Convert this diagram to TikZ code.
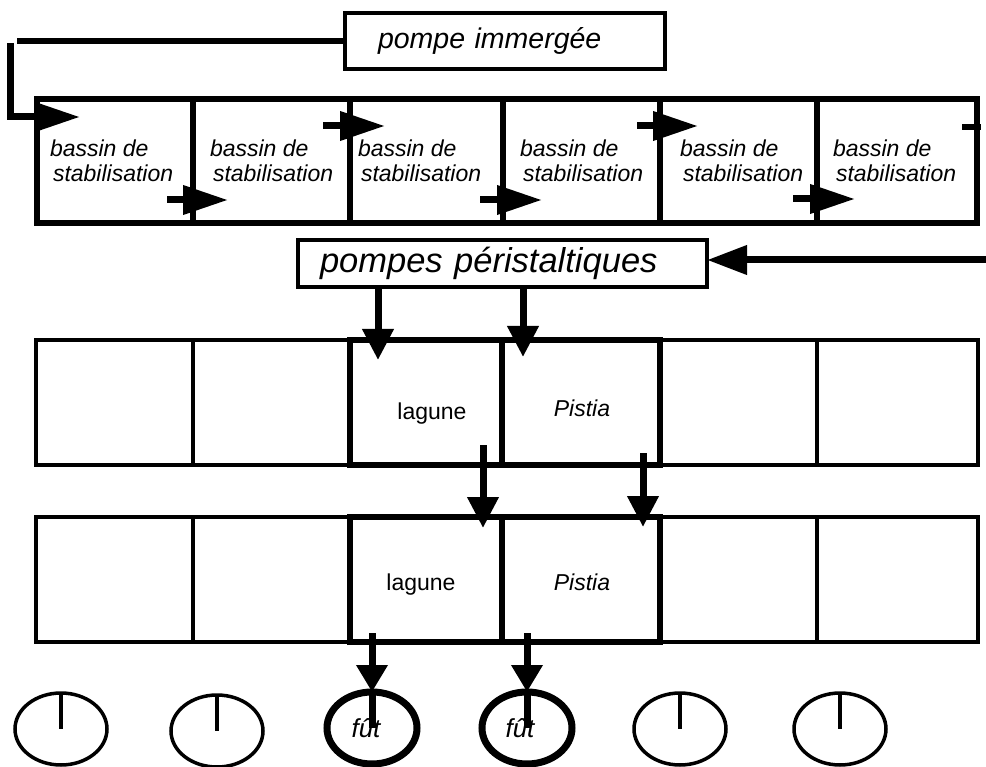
\documentclass[tikz,border=0pt]{standalone}
\usepackage{fontspec}
\setmainfont{Liberation Sans}
\usetikzlibrary{arrows.meta,shapes.geometric}
\begin{document}
\begin{tikzpicture}[x=1pt,y=-1pt,
  every node/.style={inner sep=0pt,outer sep=0pt},
  topbox/.style={draw,line width=6.5pt,minimum height=124pt},
  thinbox/.style={draw,line width=3.2pt,minimum height=125pt},
  hibox/.style={draw,line width=6.5pt,minimum height=125pt},
  labelbox/.style={draw,line width=3.5pt,align=left,font=\itshape},
  btext/.style={font=\fontsize{23}{25}\selectfont\itshape,align=left,anchor=base west},
  ltext/.style={font=\fontsize{23}{25}\selectfont,anchor=base},
  futtext/.style={font=\fontsize{26}{28}\selectfont\itshape,anchor=base},
  thinbarrel/.style={draw,ellipse,line width=3.5pt,minimum width=92pt,minimum height=72pt},
  thickbarrel/.style={draw,ellipse,line width=7pt,minimum width=90pt,minimum height=72pt},
  thinstem/.style={line width=4pt},
  thickstem/.style={line width=7pt},
  pipe/.style={line width=6.5pt},
  bigarrow/.style={line width=7pt,-{Triangle[length=45pt,width=28pt]}},
  smallarrow/.style={line width=7pt,-{Triangle[length=31pt,width=30pt]}},
  futarrow/.style={line width=7pt,-{Triangle[length=27pt,width=30pt]}},
  backarrow/.style={line width=7pt,-{Triangle[length=40pt,width=28pt]}}
]
\useasboundingbox (0,0) rectangle (986,767);

% pompe immergee
\node[labelbox,minimum width=320pt,minimum height=56pt,text width=254pt,inner xsep=33pt,
  font=\fontsize{28.5}{30}\selectfont\itshape] (pi) at (505,41) {pompe immergée};

% top row: bassins de stabilisation
\node[topbox,minimum width=156pt] (b1) at (115,161) {};
\node[topbox,minimum width=157pt] (b2) at (271.5,161) {};
\node[topbox,minimum width=153pt] (b3) at (426.5,161) {};
\node[topbox,minimum width=157pt] (b4) at (581.5,161) {};
\node[topbox,minimum width=157pt] (b5) at (738.5,161) {};
\node[topbox,minimum width=160pt] (b6) at (897,161) {};
\node[btext] (t1) at (50,182) {bassin de\\\hspace*{3pt}stabilisation};
\node[btext] (t2) at (210,182) {bassin de\\\hspace*{3pt}stabilisation};
\node[btext] (t3) at (358,182) {bassin de\\\hspace*{3pt}stabilisation};
\node[btext] (t4) at (520,182) {bassin de\\\hspace*{3pt}stabilisation};
\node[btext] (t5) at (680,182) {bassin de\\\hspace*{3pt}stabilisation};
\node[btext] (t6) at (833,182) {bassin de\\\hspace*{3pt}stabilisation};

% feed from the immersed pump
\coordinate (f0) at (17,41);
\coordinate (f1) at (10,43);
\coordinate (f2) at (10,117);
\coordinate (f3) at (80,117);
\draw[pipe] (pi.west) -- (f0);
\draw[bigarrow] (f1) -- (f2) -- (f3);

% flow between the bassins
\coordinate (a2s) at (167,200); \coordinate (a2e) at (228,200);
\coordinate (a3s) at (323,126); \coordinate (a3e) at (385,126);
\coordinate (a4s) at (480,200); \coordinate (a4e) at (542,200);
\coordinate (a5s) at (637,126); \coordinate (a5e) at (698,126);
\coordinate (a6s) at (793,199); \coordinate (a6e) at (855,199);
\coordinate (a7s) at (962,127); \coordinate (a7e) at (981,127);
\draw[bigarrow] (a2s) -- (a2e);
\draw[bigarrow] (a3s) -- (a3e);
\draw[bigarrow] (a4s) -- (a4e);
\draw[bigarrow] (a5s) -- (a5e);
\draw[bigarrow] (a6s) -- (a6e);
\draw[line width=6pt] (a7s) -- (a7e);

% pompes peristaltiques
\node[labelbox,minimum width=409pt,minimum height=47pt,text width=365pt,inner xsep=22pt,
  font=\fontsize{34.5}{36}\selectfont\itshape] (pp) at (502.5,263.5) {pompes péristaltiques};
\coordinate (rin) at (986,260);
\draw[backarrow] (rin) -- (rin -| pp.east);

% first row of lagunes
\node[thinbox,minimum width=157pt] (m1) at (114.5,402.5) {};
\node[thinbox,minimum width=157pt] (m2) at (271.5,402.5) {};
\node[thinbox,minimum width=157pt] (m5) at (738.5,402.5) {};
\node[thinbox,minimum width=161pt] (m6) at (897.5,402.5) {};
\node[hibox,minimum width=152pt] (m3) at (426,402.5) {};
\node[hibox,minimum width=158pt] (m4) at (581,402.5) {};
\node[ltext] (l1) at (432,420) {lagune};
\node[ltext,font=\fontsize{23}{25}\selectfont\itshape] (p1) at (582,417) {Pistia};

% second row
\node[thinbox,minimum width=157pt] (n1) at (114.5,579.5) {};
\node[thinbox,minimum width=157pt] (n2) at (271.5,579.5) {};
\node[thinbox,minimum width=157pt] (n5) at (738.5,579.5) {};
\node[thinbox,minimum width=161pt] (n6) at (897.5,579.5) {};
\node[hibox,minimum width=152pt] (n3) at (426,579.5) {};
\node[hibox,minimum width=158pt] (n4) at (581,579.5) {};
\node[ltext] (l2) at (421,590) {lagune};
\node[ltext,font=\fontsize{23}{25}\selectfont\itshape] (p2) at (582,590) {Pistia};

% pump outlets into the first row
\coordinate (q1s) at (378,287); \coordinate (q1e) at (378,360);
\coordinate (q2s) at (523,287); \coordinate (q2e) at (523,357);
\draw[smallarrow] (q1s) -- (q1e);
\draw[smallarrow] (q2s) -- (q2e);

% first row to second row
\coordinate (r1s) at (483,445); \coordinate (r1e) at (483,528);
\coordinate (r2s) at (643,453); \coordinate (r2e) at (643,527);
\draw[smallarrow] (r1s) -- (r1e);
\draw[smallarrow] (r2s) -- (r2e);

% barrels
\node[thinbarrel] (c1) at (61,729) {};
\node[thinbarrel] (c2) at (217,731) {};
\node[thickbarrel] (c3) at (372,728) {};
\node[thickbarrel] (c4) at (527,728) {};
\node[thinbarrel] (c5) at (680,729) {};
\node[thinbarrel] (c6) at (840,729) {};
\node[futtext] (u1) at (366,737) {fût};
\node[futtext] (u2) at (520,737) {fût};
\draw[thinstem] (c1.north) -- (c1.center);
\draw[thinstem] (c2.north) -- (c2.center);
\draw[thinstem] (c5.north) -- (c5.center);
\draw[thinstem] (c6.north) -- (c6.center);
\coordinate (s1) at (372,633);
\coordinate (s2) at (527,633);
\draw[futarrow] (s1) -- (c3.north);
\draw[futarrow] (s2) -- (c4.north);
\draw[thickstem] (c3.north) -- (c3.center);
\draw[thickstem] (c4.north) -- (c4.center);
\end{tikzpicture}
\end{document}
